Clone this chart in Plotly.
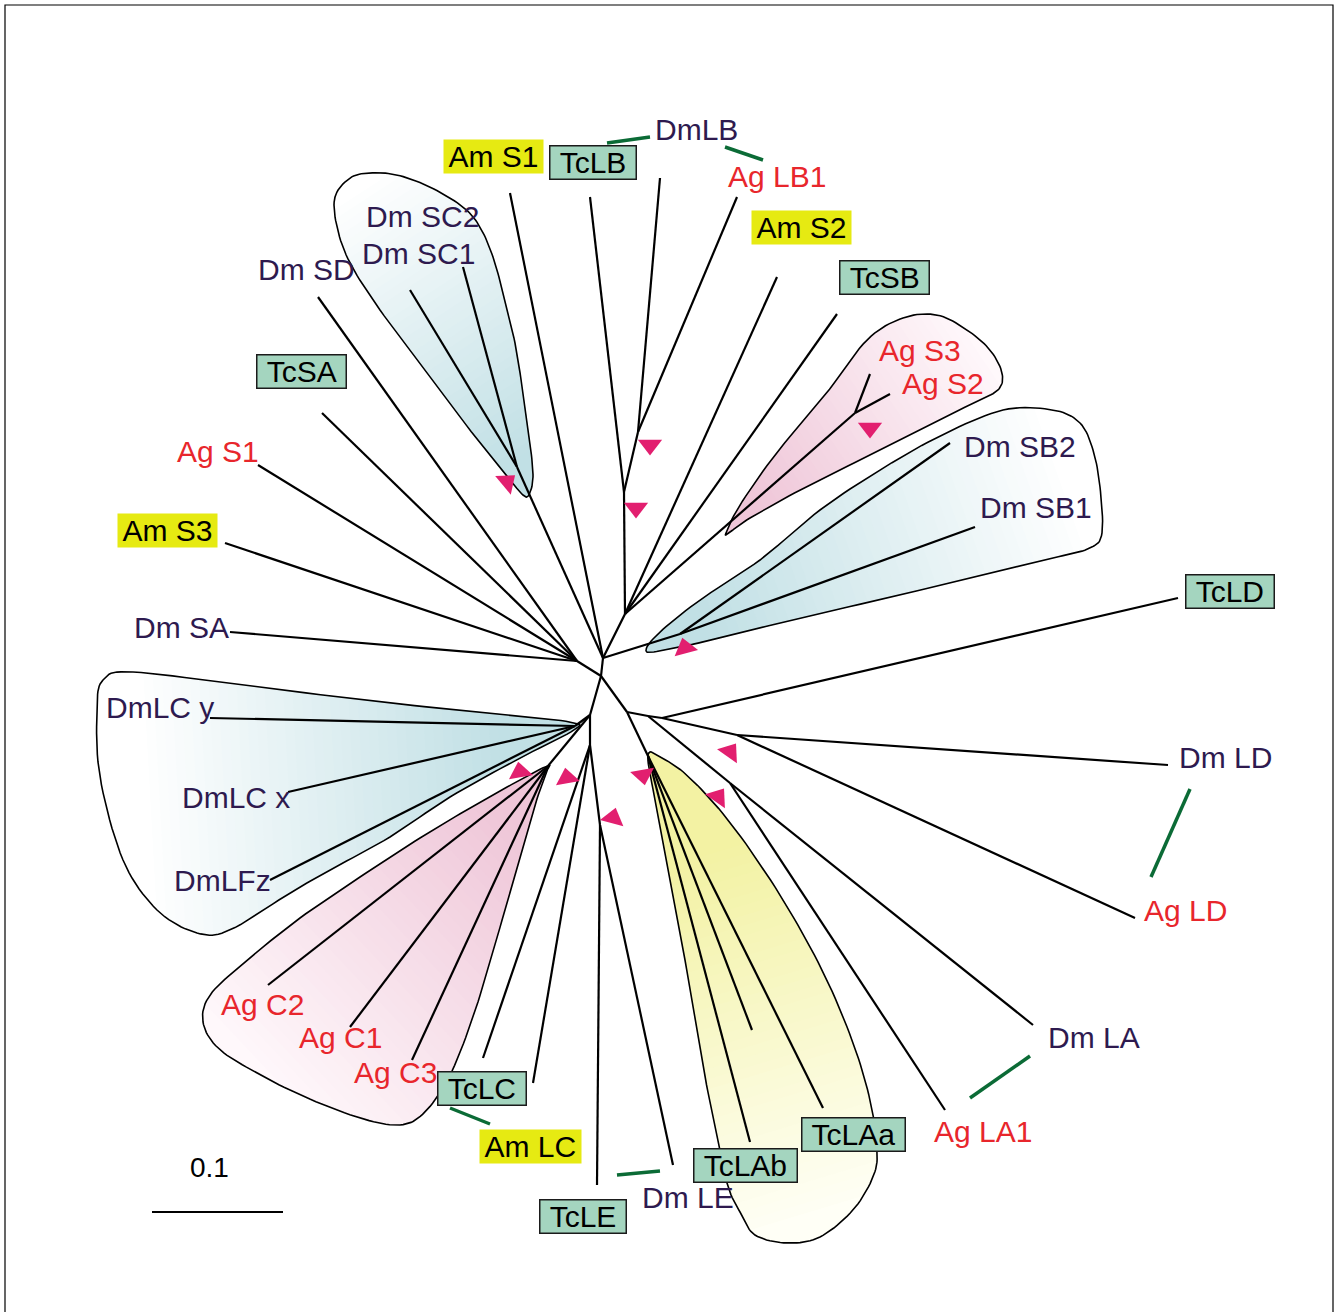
import numpy as np
import plotly.graph_objects as go

# ---------------- DATA ----------------
# tree nodes (drawing coordinates of the unrooted tree, px)
node_name = ["R", "NU", "L", "D1", "D2", "NSB", "N2", "NSC", "NLB", "NLB2", "NAGS",
             "NLA0", "NLD", "NLD2", "NLA", "NTLA", "NC", "NE", "NDLC", "NAGC",
             "Am S1", "TcLB", "DmLB", "Ag LB1", "Am S2", "TcSB", "Ag S3", "Ag S2",
             "Dm SB2", "Dm SB1", "TcLD", "Dm LD", "Ag LD", "Dm LA", "Ag LA1",
             "TcLAa", "TcLAm", "TcLAb", "Dm LE", "TcLE", "TcLC", "Am LC",
             "Ag C3", "Ag C1", "Ag C2", "DmLFz", "DmLC x", "DmLC y",
             "Dm SA", "Am S3", "Ag S1", "TcSA", "Dm SD", "Dm SC2", "Dm SC1"]
node_x = [601, 603, 577, 627, 590, 680, 625, 517, 624, 638, 855,
          648, 662, 737, 730, 648, 590, 600, 575, 548,
          510, 590, 660, 737, 777, 837, 870, 890,
          950, 975, 1178, 1168, 1135, 1033, 945,
          823, 752, 750, 673, 597, 483, 533,
          412, 350, 268, 270, 288, 210,
          230, 225, 258, 322, 318, 463, 410]
node_y = [676, 658, 661, 712, 715, 634, 614, 467, 492, 432, 413,
          716, 718, 735, 783, 756, 745, 825, 726, 766,
          193, 197, 178, 197, 277, 314, 374, 394,
          443, 527, 598, 765, 918, 1025, 1110,
          1108, 1030, 1142, 1165, 1185, 1058, 1083,
          1060, 1027, 985, 880, 792, 718,
          632, 543, 465, 413, 297, 267, 290]
node_parent = [None, "R", "R", "R", "R", "NU", "NU", "NU", "N2", "NLB", "N2",
               "D1", "NLA0", "NLD", "NLA0", "D1", "D2", "NC", "D2", "D2",
               "NU", "NLB", "NLB2", "NLB2", "N2", "N2", "NAGS", "NAGS",
               "NSB", "NSB", "NLD", "NLD2", "NLD2", "NLA", "NLA",
               "NTLA", "NTLA", "NTLA", "NE", "NE", "NC", "NC",
               "NAGC", "NAGC", "NAGC", "NDLC", "NDLC", "NDLC",
               "L", "L", "L", "L", "L", "NSC", "NSC"]

# leaf labels
label_text = ["Am S1", "TcLB", "DmLB", "Ag LB1", "Am S2", "TcSB", "Ag S3", "Ag S2",
              "Dm SB2", "Dm SB1", "TcLD", "Dm LD", "Ag LD", "Dm LA", "Ag LA1",
              "TcLAa", "TcLAb", "Dm LE", "TcLE", "Am LC", "TcLC", "Ag C3", "Ag C1",
              "Ag C2", "DmLFz", "DmLC x", "DmLC y", "Dm SA", "Am S3", "Ag S1",
              "TcSA", "Dm SD", "Dm SC2", "Dm SC1"]
label_x = [493, 593, 696, 777, 801, 884, 920, 943,
           1020, 1036, 1230, 1225, 1185, 1094, 983,
           853, 745, 688, 583, 530, 482, 395, 340,
           262, 222, 236, 160, 181, 167, 218,
           301, 306, 422, 418]
label_y = [156, 162, 129, 176, 227, 277, 350, 383,
           446, 507, 591, 757, 910, 1037, 1131,
           1134, 1165, 1197, 1216, 1146, 1088, 1072, 1037,
           1004, 880, 797, 707, 627, 530, 451,
           371, 269, 216, 253]
label_species = ["Am", "Tc", "Dm", "Ag", "Am", "Tc", "Ag", "Ag",
                 "Dm", "Dm", "Tc", "Dm", "Ag", "Dm", "Ag",
                 "Tc", "Tc", "Dm", "Tc", "Am", "Tc", "Ag", "Ag",
                 "Ag", "Dm", "Dm", "Dm", "Dm", "Am", "Ag",
                 "Tc", "Dm", "Dm", "Dm"]

# orthology connectors (pairs of labels)
link_x0 = [607, 725, 1190, 1030, 450, 617]
link_y0 = [143, 147, 789, 1056, 1108, 1175]
link_x1 = [650, 763, 1151, 970, 490, 660]
link_y1 = [137, 160, 877, 1098, 1124, 1171]

# bootstrap / support triangles
tri_x = [650, 636, 870, 507, 685, 730, 718, 643, 613, 567, 520]
tri_y = [445, 508, 428, 482, 648, 752, 797, 775, 818, 778, 772]
tri_sym = ["triangle-down", "triangle-down", "triangle-down", "triangle-up", "triangle-up",
           "triangle-up", "triangle-up", "triangle-down", "triangle-up", "triangle-up", "triangle-up"]
tri_angle = [0, 0, 0, 50, -15, 35, 35, -10, 15, -10, -10]

# clade outlines (control points) and gradient anchors
clade_dmsc = [(335, 197), (350, 178), (370, 173), (397, 175), (430, 187), (463, 207), (480, 227),
              (493, 257), (503, 293), (515, 343), (523, 393), (530, 443), (533, 477), (529, 495),
              (523, 495), (510, 480), (480, 443), (430, 377), (380, 310), (350, 263), (337, 227)]
clade_sb = [(646, 650), (660, 632), (700, 600), (760, 560), (820, 510), (880, 470), (940, 436),
            (1003, 410), (1053, 410), (1080, 423), (1093, 450), (1100, 487), (1102, 533),
            (1090, 548), (1053, 558), (980, 575), (900, 595), (800, 618), (720, 638), (660, 651)]
clade_ags = [(726, 533), (740, 505), (775, 455), (825, 395), (867, 340), (903, 318), (937, 315),
             (967, 330), (990, 350), (1002, 373), (998, 390), (973, 403), (920, 430), (860, 460),
             (800, 490), (750, 518), (730, 532)]
clade_dmlc = [(103, 680), (133, 672), (250, 686), (390, 703), (500, 714), (570, 722), (574, 730),
              (520, 758), (450, 797), (390, 837), (330, 870), (290, 893), (230, 930), (197, 933),
              (157, 910), (123, 860), (100, 777), (97, 710)]
clade_agc = [(548, 766), (520, 780), (470, 808), (420, 838), (360, 877), (300, 918), (245, 962),
             (210, 995), (203, 1022), (218, 1048), (255, 1072), (305, 1097), (360, 1118),
             (400, 1125), (425, 1112), (450, 1075), (472, 1020), (492, 955), (512, 885),
             (532, 815), (545, 775)]
clade_tcla = [(648, 755), (655, 800), (668, 870), (685, 960), (700, 1050), (713, 1117),
              (727, 1183), (740, 1212), (755, 1235), (787, 1243), (820, 1237), (853, 1210),
              (873, 1177), (877, 1150), (870, 1100), (852, 1040), (822, 970), (780, 895),
              (732, 825), (690, 778), (662, 758)]

clades = [
    (clade_dmsc, (350, 190), (522, 455), "#ffffff", "#c1e0e5"),
    (clade_sb, (1070, 480), (700, 610), "#ffffff", "#c1e0e5"),
    (clade_ags, (985, 350), (755, 505), "#fff8fb", "#efc6d8"),
    (clade_dmlc, (140, 780), (500, 760), "#ffffff", "#c1e0e5"),
    (clade_agc, (250, 1065), (510, 820), "#fff8fb", "#efc6d8"),
    (clade_tcla, (800, 1225), (690, 860), "#fffff6", "#f3f2a3"),
]

scale_bar_units = 0.1
px_per_unit = 1310

# ---------------- STYLE ----------------
DM_COL = "#2e1a4f"
AG_COL = "#e8262c"
AM_BG = "#e6ea12"
TC_BG = "#a4d5bf"
TRI_COL = "#e21f6f"
LINK_COL = "#0b6b36"
FONT = "Liberation Sans, Arial, sans-serif"
FS = 30
W, H = 1335, 1312

CHAR_W = {"A": 667, "B": 667, "C": 722, "D": 722, "E": 667, "F": 611, "L": 556, "S": 667,
          "T": 611, "a": 556, "b": 556, "c": 500, "g": 556, "m": 833, "x": 500, "y": 500,
          "z": 500, " ": 278, ".": 278}


def text_w(s):
    return sum(CHAR_W.get(ch, 556) for ch in s) * FS / 1000.0


def spline_closed(pts, n=10):
    P = np.array(pts, float)
    m = len(P)
    out = []
    for i in range(m):
        p0, p1, p2, p3 = P[(i - 1) % m], P[i], P[(i + 1) % m], P[(i + 2) % m]
        for t in np.linspace(0, 1, n, endpoint=False):
            t2, t3 = t * t, t * t * t
            out.append(0.5 * ((2 * p1) + (-p0 + p2) * t + (2 * p0 - 5 * p1 + 4 * p2 - p3) * t2
                              + (-p0 + 3 * p1 - 3 * p2 + p3) * t3))
    return np.array(out)


def clip(poly, d, c):
    out = []
    n = len(poly)
    for i in range(n):
        a = poly[i]
        b = poly[(i + 1) % n]
        fa = a @ d - c
        fb = b @ d - c
        if fa >= 0:
            out.append(a)
        if (fa >= 0) != (fb >= 0):
            t = fa / (fa - fb)
            out.append(a + (b - a) * t)
    return np.array(out)


def hex2rgb(h):
    h = h.lstrip("#")
    return np.array([int(h[i:i + 2], 16) for i in (0, 2, 4)], float)


fig = go.Figure()

# gradient-filled clade shapes
for pts, g0, g1, c0, c1 in clades:
    poly = spline_closed(pts)
    p0 = np.array(g0, float)
    p1 = np.array(g1, float)
    L = np.linalg.norm(p1 - p0)
    d = (p1 - p0) / L
    s0 = p0 @ d
    rgb0, rgb1 = hex2rgb(c0), hex2rgb(c1)
    N = 40
    for k in range(N):
        t = k / (N - 1)
        sub = poly if k == 0 else clip(poly, d, s0 + t * L)
        if len(sub) < 3:
            continue
        col = rgb0 + (rgb1 - rgb0) * t
        fig.add_trace(go.Scatter(
            x=list(sub[:, 0]) + [sub[0, 0]], y=list(sub[:, 1]) + [sub[0, 1]],
            mode="lines", line=dict(width=0), fill="toself",
            fillcolor="rgb(%d,%d,%d)" % tuple(col.astype(int)),
            hoverinfo="skip", showlegend=False))
    fig.add_trace(go.Scatter(
        x=list(poly[:, 0]) + [poly[0, 0]], y=list(poly[:, 1]) + [poly[0, 1]],
        mode="lines", line=dict(color="black", width=1.6),
        hoverinfo="skip", showlegend=False))

# tree branches
idx = {n: i for i, n in enumerate(node_name)}
ex, ey = [], []
for i, par in enumerate(node_parent):
    if par is None:
        continue
    j = idx[par]
    ex += [node_x[j], node_x[i], None]
    ey += [node_y[j], node_y[i], None]
fig.add_trace(go.Scatter(x=ex, y=ey, mode="lines", line=dict(color="black", width=2.2),
                         hoverinfo="skip", showlegend=False))

# orthology connectors
lx, ly = [], []
for a, b, c, e in zip(link_x0, link_y0, link_x1, link_y1):
    lx += [a, c, None]
    ly += [b, e, None]
fig.add_trace(go.Scatter(x=lx, y=ly, mode="lines", line=dict(color=LINK_COL, width=3.5),
                         hoverinfo="skip", showlegend=False))

# support triangles
fig.add_trace(go.Scatter(x=tri_x, y=tri_y, mode="markers",
                         marker=dict(symbol=tri_sym, angle=tri_angle, size=21, color=TRI_COL,
                                     line=dict(width=0)),
                         hoverinfo="skip", showlegend=False))

# scale bar
sb_x0 = 152
fig.add_trace(go.Scatter(x=[sb_x0, sb_x0 + scale_bar_units * px_per_unit], y=[1212, 1212],
                         mode="lines", line=dict(color="black", width=2),
                         hoverinfo="skip", showlegend=False))
fig.add_annotation(x=sb_x0 + scale_bar_units * px_per_unit / 2 - 8, y=1167, text=str(scale_bar_units),
                   showarrow=False, font=dict(family=FONT, size=28, color="black"),
                   xanchor="center", yanchor="middle")

# labels
for t, x, y, sp in zip(label_text, label_x, label_y, label_species):
    kw = dict(x=x, y=y, text=t, showarrow=False, xanchor="center", yanchor="middle")
    if sp == "Dm":
        kw["font"] = dict(family=FONT, size=FS, color=DM_COL)
    elif sp == "Ag":
        kw["font"] = dict(family=FONT, size=FS, color=AG_COL)
    elif sp == "Am":
        kw["font"] = dict(family=FONT, size=FS, color="black")
        kw.update(bgcolor=AM_BG, width=text_w(t) + 9, height=33, borderpad=0)
    else:
        kw["font"] = dict(family=FONT, size=FS, color="black")
        kw.update(bgcolor=TC_BG, bordercolor="#1b1b1b", borderwidth=1.5,
                  width=text_w(t) + 15, height=32, borderpad=0)
    fig.add_annotation(**kw)

# frame
fig.add_shape(type="rect", x0=5, y0=5, x1=1333, y1=1340, xref="x", yref="y",
              line=dict(color="black", width=1.2), layer="below")

fig.update_layout(
    width=W, height=H, margin=dict(l=0, r=0, t=0, b=0),
    paper_bgcolor="white", plot_bgcolor="white",
    xaxis=dict(range=[0, W], visible=False, fixedrange=True),
    yaxis=dict(range=[H, 0], visible=False, fixedrange=True),
    showlegend=False,
)

fig.write_html("out.html", config={"displayModeBar": False},
               post_script="document.body.style.margin='0px';document.body.style.overflow='hidden';")
